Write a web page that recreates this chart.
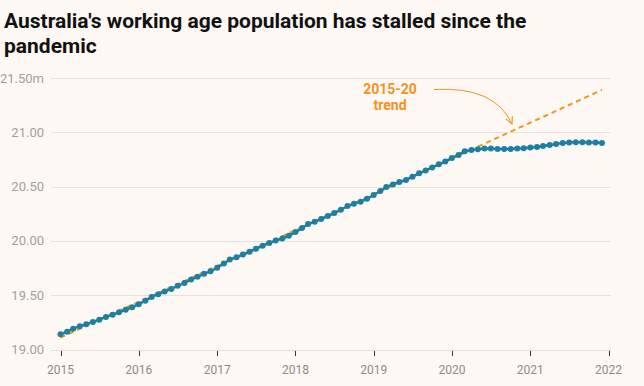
<!DOCTYPE html>
<html>
<head>
<meta charset="utf-8">
<script src="https://cdn.jsdelivr.net/npm/d3@7"></script>
<style>
  body { margin: 0; background: #fdf8f4; }
  svg { display: block; font-family: Roboto, sans-serif; }
</style>
</head>
<body>
<div id="chart"></div>
<script>
// working age population, millions, monthly Jan 2015 - Dec 2021
const startYear = 2015;
const population = [
  19.140, 19.164, 19.192, 19.214, 19.232, 19.254, 19.275, 19.300, 19.321, 19.343, 19.367, 19.389,
  19.417, 19.450, 19.484, 19.509, 19.535, 19.558, 19.586, 19.613, 19.644, 19.669, 19.697, 19.721,
  19.752, 19.792, 19.828, 19.850, 19.875, 19.899, 19.927, 19.955, 19.981, 20.004, 20.022, 20.047,
  20.081, 20.118, 20.155, 20.176, 20.201, 20.229, 20.256, 20.287, 20.321, 20.342, 20.361, 20.388,
  20.423, 20.459, 20.496, 20.520, 20.542, 20.561, 20.591, 20.622, 20.649, 20.677, 20.705, 20.730,
  20.764, 20.792, 20.825, 20.836, 20.844, 20.850, 20.850, 20.847, 20.847, 20.847, 20.850, 20.853,
  20.859, 20.865, 20.874, 20.884, 20.893, 20.902, 20.905, 20.908, 20.908, 20.905, 20.905, 20.902,
];
// 2015-20 trend, extended to end of 2021 (month index, value)
const trendMonths = [0, 83];
const trendValues = [19.11, 21.39];

const yTicks = [19, 19.5, 20, 20.5, 21, 21.5];
const xTickYears = [2015, 2016, 2017, 2018, 2019, 2020, 2021, 2022];
const titleLines = [
  "Australia's working age population has stalled since the",
  "pandemic",
];
const annotationLines = ["2015-20", "trend"];

const width = 644;
const height = 386;
const margin = { top: 78, right: 35, bottom: 36.5, left: 60.5 };
const gridLeft = 51;
const gridRight = 611;
const blue = "#1e7fa1";
const orange = "#f5921e";

const monthDate = (i) => new Date(startYear, i, 1);

const xScale = d3
  .scaleTime()
  .domain([new Date(2015, 0, 1), new Date(2022, 0, 1)])
  .range([margin.left, 608.6]);

const yScale = d3
  .scaleLinear()
  .domain([19, 21.5])
  .range([height - margin.bottom, margin.top]);

const svg = d3
  .select("#chart")
  .append("svg")
  .attr("width", width)
  .attr("height", height);

svg.append("rect").attr("width", width).attr("height", height).attr("fill", "#fdf8f4");

svg
  .append("g")
  .selectAll("text")
  .data(titleLines)
  .join("text")
  .attr("x", 4)
  .attr("y", (d, i) => 28 + i * 25)
  .attr("font-size", 21)
  .attr("font-weight", 700)
  .attr("fill", "#111")
  .text((d) => d);

// gridlines + y labels
const grid = svg.append("g");
grid
  .selectAll("line")
  .data(yTicks)
  .join("line")
  .attr("x1", gridLeft)
  .attr("x2", gridRight)
  .attr("y1", (d) => Math.round(yScale(d)) + 0.5)
  .attr("y2", (d) => Math.round(yScale(d)) + 0.5)
  .attr("stroke", "#e3e0dd")
  .attr("stroke-width", 1);

grid
  .selectAll("text")
  .data(yTicks)
  .join("text")
  .attr("x", 44)
  .attr("y", (d) => yScale(d))
  .attr("dy", "0.35em")
  .attr("text-anchor", "end")
  .attr("font-size", 13)
  .attr("fill", "#a3a09d")
  .text((d, i) => d3.format(".2f")(d) + (i === yTicks.length - 1 ? "m" : ""));

// x axis ticks and labels
const xAxis = svg.append("g");
xAxis
  .selectAll("line")
  .data(xTickYears)
  .join("line")
  .attr("x1", (d) => Math.round(xScale(new Date(d, 0, 1))) + 0.5)
  .attr("x2", (d) => Math.round(xScale(new Date(d, 0, 1))) + 0.5)
  .attr("y1", Math.round(yScale(19)) + 1)
  .attr("y2", Math.round(yScale(19)) + 6)
  .attr("stroke", "#333")
  .attr("stroke-width", 1);

xAxis
  .selectAll("text")
  .data(xTickYears)
  .join("text")
  .attr("x", (d) => xScale(new Date(d, 0, 1)))
  .attr("y", 374)
  .attr("text-anchor", "middle")
  .attr("font-size", 12)
  .attr("fill", "#8e8b88")
  .text((d) => d);

// trend line
const lineGenerator = d3
  .line()
  .x((d) => xScale(d.date))
  .y((d) => yScale(d.value));

const trendData = trendMonths.map((m, i) => ({ date: monthDate(m), value: trendValues[i] }));
svg
  .append("path")
  .attr("fill", "none")
  .attr("stroke", orange)
  .attr("stroke-width", 2)
  .attr("stroke-dasharray", "5 4")
  .attr("d", lineGenerator(trendData));

// population line
const popData = population.map((v, i) => ({ date: monthDate(i), value: v }));
svg
  .append("path")
  .attr("fill", "none")
  .attr("stroke", blue)
  .attr("stroke-width", 2.5)
  .attr("d", lineGenerator(popData));

svg
  .append("g")
  .selectAll("circle")
  .data(popData)
  .join("circle")
  .attr("cx", (d) => xScale(d.date))
  .attr("cy", (d) => yScale(d.value))
  .attr("r", 3)
  .attr("fill", blue);

// annotation
svg
  .append("g")
  .selectAll("text")
  .data(annotationLines)
  .join("text")
  .attr("x", 390)
  .attr("y", (d, i) => 94 + i * 16)
  .attr("text-anchor", "middle")
  .attr("font-size", 14)
  .attr("font-weight", 700)
  .attr("fill", orange)
  .text((d) => d);

svg
  .append("defs")
  .append("marker")
  .attr("id", "arrow")
  .attr("viewBox", "0 0 10 10")
  .attr("refX", 9)
  .attr("refY", 5)
  .attr("markerWidth", 9)
  .attr("markerHeight", 9)
  .attr("markerUnits", "userSpaceOnUse")
  .attr("orient", "auto")
  .append("path")
  .attr("d", "M1,1 L9,5 L1,9")
  .attr("fill", "none")
  .attr("stroke", orange)
  .attr("stroke-width", 1.2);

svg
  .append("path")
  .attr("d", "M434,89.5 Q495,86 512,124")
  .attr("fill", "none")
  .attr("stroke", orange)
  .attr("stroke-width", 1)
  .attr("marker-end", "url(#arrow)");
</script>
</body>
</html>
